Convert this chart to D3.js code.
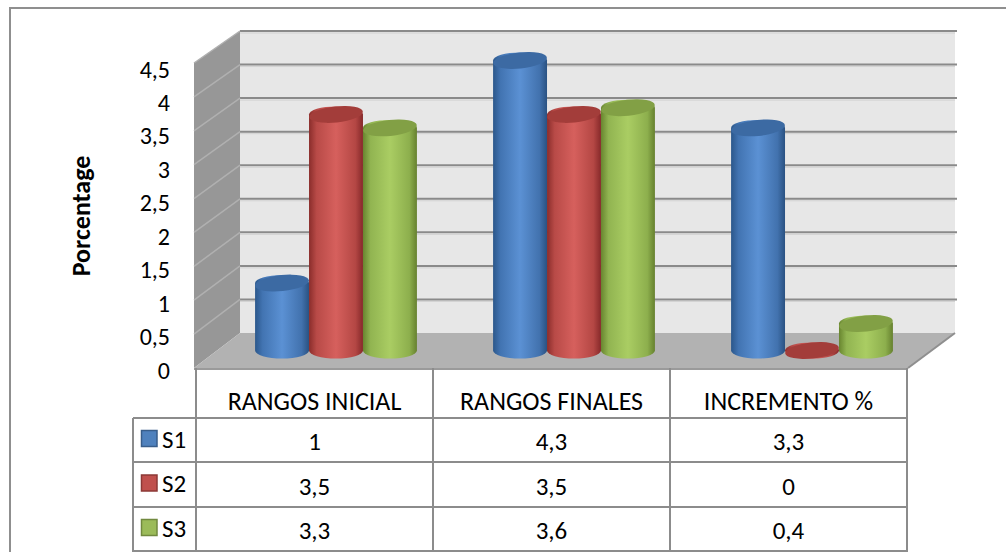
<!DOCTYPE html>
<html>
<head>
<meta charset="utf-8">
<script src="https://cdn.jsdelivr.net/npm/d3@7"></script>
<style>
  html, body { margin: 0; padding: 0; background: #fff; }
  svg { display: block; }
  text { font-family: Carlito, Lato, "Open Sans", sans-serif; fill: #000; }
</style>
</head>
<body>
<svg id="chart" width="1006" height="552"></svg>
<script>
// Chart data
const categories = ["RANGOS INICIAL", "RANGOS FINALES", "INCREMENTO %"];
const seriesNames = ["S1", "S2", "S3"];
const s1 = [1, 4.3, 3.3];
const s2 = [3.5, 3.5, 0];
const s3 = [3.3, 3.6, 0.4];
const yTicks = [0, 0.5, 1, 1.5, 2, 2.5, 3, 3.5, 4, 4.5];
const yTitle = "Porcentage";

const seriesValues = [s1, s2, s3];

// Series colours: body gradient stops, cap colour, legend swatch
const palette = {
  S1: { stops: ["#2b578b", "#4274b2", "#5b91d4", "#4272ae", "#2a5282"], cap: "#3c6aa3", swatch: "#4f81bd", line: "#385d8a" },
  S2: { stops: ["#8a2d2b", "#b84a47", "#d6605d", "#b44744", "#86292a"], cap: "#a33d3a", swatch: "#c0504d", line: "#8c3836" },
  S3: { stops: ["#68852f", "#91b451", "#aacd63", "#8daf4d", "#66812f"], cap: "#82a045", swatch: "#9bbb59", line: "#71893f" }
};

const locale = d3.formatLocale({ decimal: ",", thousands: ".", grouping: [3], currency: ["", "€"] });
const fmt = locale.format("~r");

const svg = d3.select("#chart");
const defs = svg.append("defs");

// 3D box geometry: front plane and depth offset
const front = { left: 194, right: 908 };
const depth = { dx: 46 };
const yFront = d3.scaleLinear().domain([0, 4.5]).range([368, 63]);
const yBack = d3.scaleLinear().domain([0, 4.5]).range([333, 31]);
const yMid = d3.scaleLinear().domain([0, 4.5]).range([350.5, 47]);
const yLabel = d3.scaleLinear().domain([0, 4.5]).range([370, 69]);
const backRight = 955;

// Category placement at mid depth for the cylinders
const xMid = d3.scaleBand()
  .domain(categories)
  .range([front.left + depth.dx / 2, front.right + depth.dx / 2])
  .paddingInner(0.32)
  .paddingOuter(0.16);
const xSeries = d3.scaleBand().domain(seriesNames).range([0, xMid.bandwidth()]);

// Table columns on the front plane
const xTable = d3.scaleBand().domain(categories).range([196, 907]);

// Outer frame
svg.append("path")
  .attr("d", "M10,552 L10,8 L1006,8")
  .attr("fill", "none").attr("stroke", "#8f8f8f").attr("stroke-width", 2);

// Back wall
svg.append("rect")
  .attr("x", front.left + depth.dx).attr("y", yBack(4.5))
  .attr("width", backRight - (front.left + depth.dx)).attr("height", yBack(0) - yBack(4.5))
  .attr("fill", "#e7e7e7");

// Side wall
svg.append("path")
  .attr("d", `M${front.left},${yFront(4.5)} L${front.left + depth.dx},${yBack(4.5)} L${front.left + depth.dx},${yBack(0)} L${front.left},${yFront(0)} Z`)
  .attr("fill", "#979797");

// Gridlines on back wall and side wall
const grid = svg.append("g");
yTicks.filter(t => t > 0).forEach(t => {
  grid.append("line")
    .attr("x1", front.left + depth.dx).attr("x2", backRight + 2)
    .attr("y1", yBack(t)).attr("y2", yBack(t))
    .attr("stroke", "#8a8a8a").attr("stroke-width", 2);
  grid.append("line")
    .attr("x1", front.left + depth.dx).attr("x2", backRight)
    .attr("y1", yBack(t) + 2).attr("y2", yBack(t) + 2)
    .attr("stroke", "#d2d2d2").attr("stroke-width", 1);
  grid.append("line")
    .attr("x1", front.left).attr("x2", front.left + depth.dx)
    .attr("y1", yFront(t)).attr("y2", yBack(t))
    .attr("stroke", "#b0b0b0").attr("stroke-width", 1.5);
});

// Floor
svg.append("path")
  .attr("d", `M${front.left},${yFront(0)} L${front.left + depth.dx},${yBack(0)} L${backRight},${yBack(0)} L${front.right},${yFront(0)} Z`)
  .attr("fill", "#b2b2b2");
svg.append("line")
  .attr("x1", front.right).attr("x2", backRight)
  .attr("y1", yFront(0)).attr("y2", yBack(0))
  .attr("stroke", "#8f8f8f").attr("stroke-width", 2);
svg.append("line")
  .attr("x1", front.left).attr("x2", front.right)
  .attr("y1", yFront(0) + 1).attr("y2", yFront(0) + 1)
  .attr("stroke", "#9a9a9a").attr("stroke-width", 2);

// Cylinder gradients
seriesNames.forEach(name => {
  const g = defs.append("linearGradient").attr("id", "grad-" + name)
    .attr("x1", 0).attr("x2", 1).attr("y1", 0).attr("y2", 0);
  const offs = [0, 0.14, 0.5, 0.86, 1];
  palette[name].stops.forEach((c, i) => g.append("stop").attr("offset", offs[i]).attr("stop-color", c));
});

// Cylinders
const ry = 8;
const tilt = -6;
const cyl = svg.append("g");
categories.forEach((cat, ci) => {
  seriesNames.forEach((name, si) => {
    const v = seriesValues[si][ci];
    const x0 = xMid(cat) + xSeries(name);
    const w = xSeries.bandwidth();
    const rx = w / 2;
    const cx = x0 + rx;
    const yTop = yMid(v);
    const yBase = yMid(0);
    const body = `M${x0},${yTop} L${x0},${yBase} A${rx},${ry} 0 0 0 ${x0 + w},${yBase} L${x0 + w},${yTop} A${rx},${ry} 0 0 0 ${x0},${yTop} Z`;
    cyl.append("path").attr("d", body).attr("fill", `url(#grad-${name})`);
    cyl.append("ellipse")
      .attr("cx", cx).attr("cy", yTop)
      .attr("rx", rx).attr("ry", ry)
      .attr("transform", `rotate(${tilt},${cx},${yTop})`)
      .attr("fill", palette[name].cap);
  });
});

// Y axis tick labels
const ticksG = svg.append("g");
yTicks.forEach(t => {
  ticksG.append("text")
    .attr("x", 170).attr("y", yLabel(t) + 8.5)
    .attr("text-anchor", "end")
    .style("font-size", "24px")
    .text(fmt(t));
});

// Y axis title
svg.append("text")
  .attr("transform", "translate(90,216) rotate(-90)")
  .attr("text-anchor", "middle")
  .style("font-size", "26px").style("font-weight", "bold")
  .text(yTitle);

// Data table
const table = svg.append("g");
const rowY = [368, 418, 462, 507, 551];
const lineColor = "#8c8c8c";
// vertical lines of the value columns
[196, ...categories.map(c => xTable(c) + xTable.bandwidth())].forEach(x => {
  table.append("line").attr("x1", x).attr("x2", x).attr("y1", rowY[0]).attr("y2", 552)
    .attr("stroke", lineColor).attr("stroke-width", 2);
});
// legend column left edge
table.append("line").attr("x1", 133).attr("x2", 133).attr("y1", rowY[1]).attr("y2", 552)
  .attr("stroke", lineColor).attr("stroke-width", 2);
// horizontal rules
rowY.slice(1).forEach(y => {
  table.append("line").attr("x1", 133).attr("x2", 908).attr("y1", y).attr("y2", y)
    .attr("stroke", lineColor).attr("stroke-width", 2);
});

// Category header texts
categories.forEach(cat => {
  table.append("text")
    .attr("x", xTable(cat) + xTable.bandwidth() / 2).attr("y", 410)
    .attr("text-anchor", "middle")
    .style("font-size", "26px")
    .text(cat);
});

// Series rows: legend key + values
seriesNames.forEach((name, si) => {
  const yc = (rowY[si + 1] + rowY[si + 2]) / 2;
  table.append("rect")
    .attr("x", 141.5).attr("y", yc - 9.5).attr("width", 15.5).attr("height", 16)
    .attr("fill", palette[name].swatch).attr("stroke", palette[name].line).attr("stroke-width", 1.5);
  table.append("text")
    .attr("x", 162).attr("y", yc + 7.5)
    .style("font-size", "25px")
    .text(name);
  categories.forEach((cat, ci) => {
    table.append("text")
      .attr("x", xTable(cat) + xTable.bandwidth() / 2).attr("y", yc + 10)
      .attr("text-anchor", "middle")
      .style("font-size", "25px")
      .text(fmt(seriesValues[si][ci]));
  });
});
</script>
</body>
</html>
